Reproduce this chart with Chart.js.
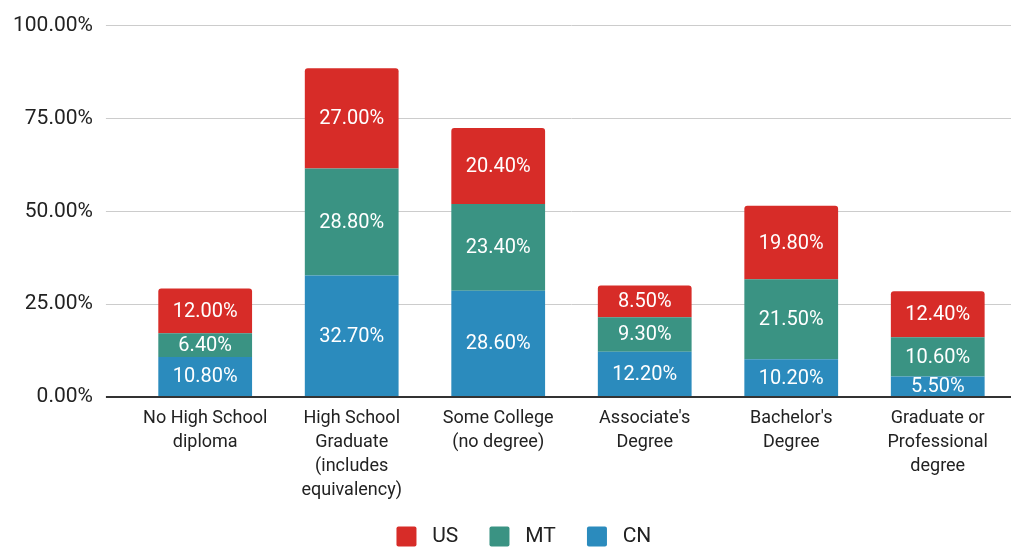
<!DOCTYPE html>
<html>
<head>
<meta charset="utf-8">
<script src="https://cdn.jsdelivr.net/npm/chart.js@4/dist/chart.umd.min.js"></script>
<style>
  html, body { margin: 0; padding: 0; background: #fff; }
  #wrap { width: 1024px; height: 548px; position: relative; }
</style>
</head>
<body>
<div id="wrap"><canvas id="eduChart"></canvas></div>
<script>
// Data
const categories = [
  ['No High School', 'diploma'],
  ['High School', 'Graduate', '(includes', 'equivalency)'],
  ['Some College', '(no degree)'],
  ["Associate's", 'Degree'],
  ["Bachelor's", 'Degree'],
  ['Graduate or', 'Professional', 'degree']
];
const cnValues = [10.8, 32.7, 28.6, 12.2, 10.2, 5.5];
const mtValues = [6.4, 28.8, 23.4, 9.3, 21.5, 10.6];
const usValues = [12.0, 27.0, 20.4, 8.5, 19.8, 12.4];

const colors = { us: '#d72c28', mt: '#3a9383', cn: '#2b8bbd' };

// Label di tengah tiap segmen
const segmentLabels = {
  id: 'segmentLabels',
  afterDatasetsDraw(chart) {
    const c = chart.ctx;
    c.save();
    c.font = '20px Roboto';
    c.fillStyle = '#ffffff';
    c.textAlign = 'center';
    c.textBaseline = 'middle';
    chart.data.datasets.forEach((ds, i) => {
      const meta = chart.getDatasetMeta(i);
      meta.data.forEach((bar, j) => {
        const v = ds.data[j];
        const y = (bar.y + bar.base) / 2;
        c.fillText(v.toFixed(2) + '%', bar.x, y + 1);
      });
    });
    c.restore();
  }
};

// Geser legenda sedikit ke kanan dan ke atas
const legendShift = {
  id: 'legendShift',
  afterLayout(chart) {
    if (chart.legend) {
      chart.legend.left += 21;
      chart.legend.right += 21;
      chart.legend.top -= 3;
      chart.legend.bottom -= 3;
    }
  }
};

const ctx = document.getElementById('eduChart').getContext('2d');
const chart = new Chart(ctx, {
  type: 'bar',
  data: {
    labels: categories,
    datasets: [
      { label: 'CN', data: cnValues, backgroundColor: colors.cn, barPercentage: 0.64, categoryPercentage: 1 },
      { label: 'MT', data: mtValues, backgroundColor: colors.mt, barPercentage: 0.64, categoryPercentage: 1 },
      { label: 'US', data: usValues, backgroundColor: colors.us, barPercentage: 0.64, categoryPercentage: 1,
        borderRadius: { topLeft: 3, topRight: 3, bottomLeft: 0, bottomRight: 0 }, borderSkipped: false }
    ]
  },
  options: {
    responsive: true,
    maintainAspectRatio: false,
    animation: false,
    layout: { padding: { left: 0, right: 13, top: -1, bottom: -12 } },
    scales: {
      x: {
        stacked: true,
        grid: { display: false },
        border: { display: false },
        ticks: {
          color: '#222',
          font: { family: 'Roboto', size: 18, lineHeight: 1.333 },
          maxRotation: 0,
          autoSkip: false,
          padding: 1
        }
      },
      y: {
        stacked: true,
        min: 0,
        max: 100,
        border: { display: false },
        grid: {
          color: (c) => c.tick && c.tick.value === 0 ? '#333' : '#cccccc',
          lineWidth: (c) => c.tick && c.tick.value === 0 ? 2 : 1,
          tickLength: 26
        },
        ticks: {
          stepSize: 25,
          color: '#222',
          padding: 13,
          font: { family: 'Roboto', size: 21 },
          callback: (v) => v.toFixed(2) + '%'
        }
      }
    },
    plugins: {
      legend: {
        position: 'bottom',
        reverse: true,
        labels: {
          color: '#222',
          font: { family: 'Roboto', size: 21 },
          boxWidth: 20,
          boxHeight: 20,
          useBorderRadius: true,
          borderRadius: 2,
          padding: 26,
          generateLabels: (chart) => Chart.defaults.plugins.legend.labels.generateLabels(chart)
            .map((item) => ({ ...item, text: ' ' + item.text + ' ' }))
        }
      },
      tooltip: { enabled: false }
    }
  },
  plugins: [segmentLabels, legendShift]
});
</script>
</body>
</html>
